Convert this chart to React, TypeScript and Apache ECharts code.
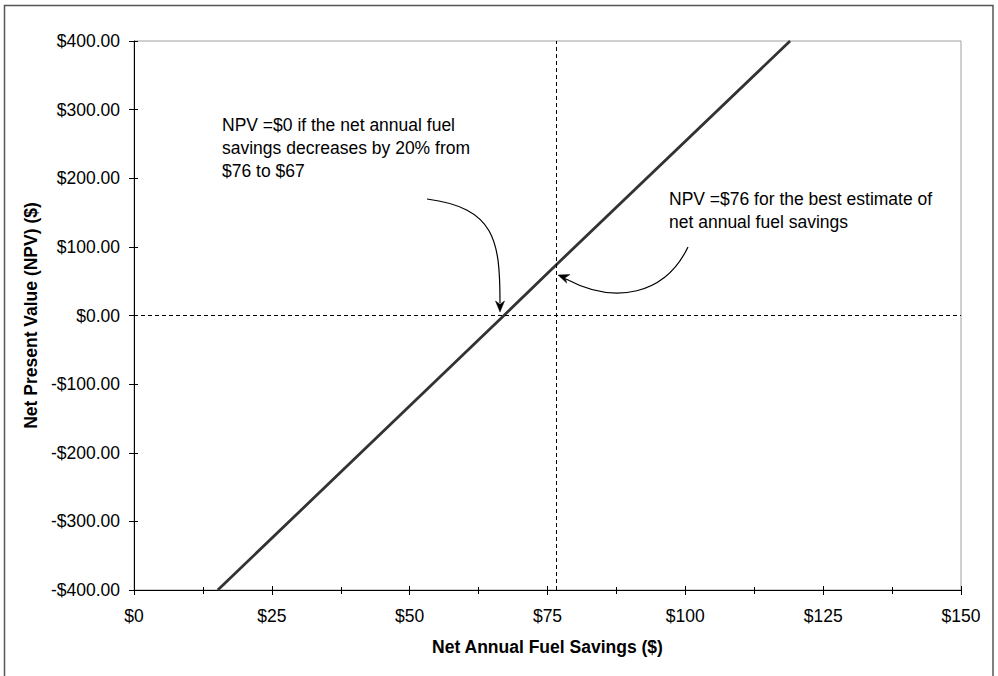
import React, { useEffect, useRef } from "react";
import * as echarts from "echarts";

// Data
const fuelSavings = [15.2, 67.1, 76.6, 119];
const npvValues = [-400, 0, 74, 400];
const bestEstimateSavings = 76.6;
const breakEvenNpv = 0;
const xAxisTitle = "Net Annual Fuel Savings ($)";
const yAxisTitle = "Net Present Value (NPV) ($)";
const note1 = "NPV =$0 if the net annual fuel\nsavings decreases by 20% from\n$76 to $67";
const note2 = "NPV =$76 for the best estimate of\nnet annual fuel savings";

const FONT = "'Liberation Sans', Arial, sans-serif";
const FS = 17.5;

function arrowHead(tip: number[], from: number[], len = 11, half = 4.5) {
  const dx = tip[0] - from[0];
  const dy = tip[1] - from[1];
  const d = Math.hypot(dx, dy);
  const ux = dx / d, uy = dy / d;
  const px = -uy, py = ux;
  const bx = tip[0] - ux * len, by = tip[1] - uy * len;
  const nx = tip[0] - ux * len * 0.7, ny = tip[1] - uy * len * 0.7;
  return [
    [tip[0], tip[1]],
    [bx + px * half, by + py * half],
    [nx, ny],
    [bx - px * half, by - py * half],
  ];
}

export default function App() {
  const ref = useRef<HTMLDivElement>(null);
  useEffect(() => {
    if (!ref.current) return;
    const chart = echarts.init(ref.current, null, { renderer: "svg" });
    const labelStyle = { fontSize: FS, color: "#000", fontFamily: FONT };
    const a1 = { p0: [427, 199], p1: [495, 208], p2: [500, 240], p3: [500, 303] };
    const tip1 = [500, 312];
    const a2 = { p0: [688, 247], p1: [665, 295], p2: [615, 305], p3: [566, 279] };
    const tip2 = [558, 275];
    chart.setOption({
      animation: false,
      backgroundColor: "#fff",
      grid: {
        left: 134,
        right: 37,
        top: 41,
        bottom: 86,
        show: true,
        borderColor: "#a0a0a0",
        borderWidth: 1,
        backgroundColor: "transparent",
      },
      xAxis: [
        {
          type: "value",
          min: 0,
          max: 150,
          interval: 25,
          position: "bottom",
          axisLine: { show: true, onZero: false, lineStyle: { color: "#000", width: 1 } },
          axisTick: { show: true, inside: false, length: 5, lineStyle: { color: "#000" } },
          minorTick: { show: true, splitNumber: 2, length: 4, lineStyle: { color: "#000" } },
          splitLine: { show: false },
          axisLabel: { ...labelStyle, margin: 17, formatter: (v: number) => "$" + v },
          name: xAxisTitle,
          nameLocation: "middle",
          nameGap: 48,
          nameTextStyle: { ...labelStyle, fontWeight: "bold" },
        },
        {
          type: "value",
          min: 0,
          max: 150,
          interval: 25,
          position: "bottom",
          axisLine: { show: false, onZero: false },
          axisTick: { show: true, inside: true, length: 4, lineStyle: { color: "#000" } },
          minorTick: { show: true, splitNumber: 2, length: 3, lineStyle: { color: "#000" } },
          splitLine: { show: false },
          axisLabel: { show: false },
        },
      ],
      yAxis: [
        {
          type: "value",
          min: -400,
          max: 400,
          interval: 100,
          position: "left",
          axisLine: { show: true, onZero: false, lineStyle: { color: "#000", width: 1 } },
          axisTick: { show: true, inside: false, length: 5, lineStyle: { color: "#000" } },
          splitLine: { show: false },
          axisLabel: {
            ...labelStyle,
            margin: 14,
            formatter: (v: number) => (v < 0 ? "-$" : "$") + Math.abs(v).toFixed(2),
          },
          name: yAxisTitle,
          nameLocation: "middle",
          nameGap: 94,
          nameTextStyle: { ...labelStyle, fontWeight: "bold" },
        },
        {
          type: "value",
          min: -400,
          max: 400,
          interval: 100,
          position: "left",
          axisLine: { show: false, onZero: false },
          axisTick: { show: true, inside: true, length: 4, lineStyle: { color: "#000" } },
          splitLine: { show: false },
          axisLabel: { show: false },
        },
      ],
      series: [
        {
          type: "line",
          xAxisIndex: 0,
          yAxisIndex: 0,
          data: fuelSavings.map((x, i) => [x, npvValues[i]]),
          showSymbol: false,
          symbol: "none",
          lineStyle: { color: "#333", width: 2.8 },
          z: 3,
          markLine: {
            silent: true,
            symbol: "none",
            label: { show: false },
            lineStyle: { color: "#000", width: 1, type: [4, 3] },
            data: [{ yAxis: breakEvenNpv }, { xAxis: bestEstimateSavings }],
          },
        },
      ],
      graphic: [
        {
          type: "rect",
          shape: { x: 4.5, y: 5.5, width: 988.5, height: 690 },
          style: { fill: "none", stroke: "#555", lineWidth: 1.5 },
          silent: true,
        },
        {
          type: "text",
          x: 222,
          y: 148,
          style: { text: note1, font: `${FS}px ${FONT}`, fill: "#000", lineHeight: 23, verticalAlign: "middle" },
        },
        {
          type: "text",
          x: 669,
          y: 187,
          style: { text: note2, font: `${FS}px ${FONT}`, fill: "#000", lineHeight: 23, verticalAlign: "top" },
        },
        {
          type: "bezierCurve",
          shape: { x1: a1.p0[0], y1: a1.p0[1], cpx1: a1.p1[0], cpy1: a1.p1[1], cpx2: a1.p2[0], cpy2: a1.p2[1], x2: a1.p3[0], y2: a1.p3[1] },
          style: { stroke: "#000", lineWidth: 1.2, fill: "none" },
        },
        {
          type: "polygon",
          shape: { points: arrowHead(tip1, [500, 290]) },
          style: { fill: "#000", stroke: "#000", lineWidth: 0.5 },
        },
        {
          type: "bezierCurve",
          shape: { x1: a2.p0[0], y1: a2.p0[1], cpx1: a2.p1[0], cpy1: a2.p1[1], cpx2: a2.p2[0], cpy2: a2.p2[1], x2: a2.p3[0], y2: a2.p3[1] },
          style: { stroke: "#000", lineWidth: 1.2, fill: "none" },
        },
        {
          type: "polygon",
          shape: { points: arrowHead(tip2, [585, 285]) },
          style: { fill: "#000", stroke: "#000", lineWidth: 0.5 },
        },
      ],
    });
    return () => chart.dispose();
  }, []);
  return (
    <div
      ref={ref}
      style={{ position: "absolute", left: 0, top: 0, width: 998, height: 676 }}
    />
  );
}
